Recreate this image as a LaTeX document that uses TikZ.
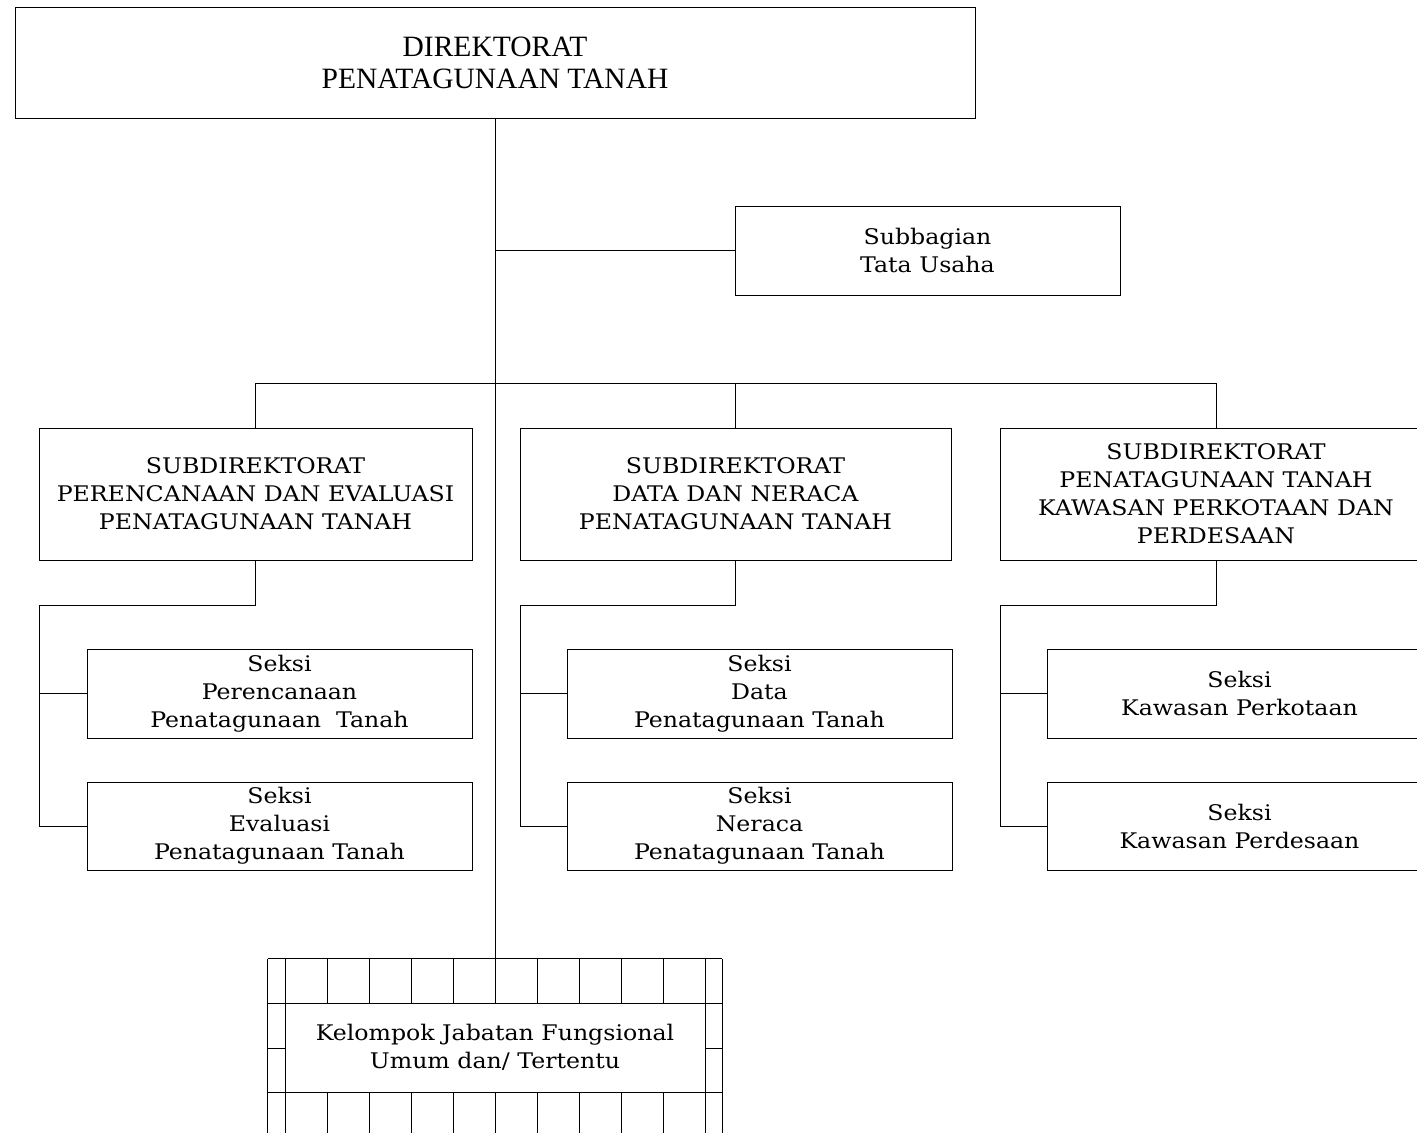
\documentclass[tikz,border=0pt]{standalone}
\usepackage{fontspec}
\setmainfont{DejaVu Serif}[FakeStretch=1.1]
\newfontfamily\headfont{Liberation Serif}
\begin{document}
\begin{tikzpicture}[x=1pt,y=-1pt,
  box/.style={draw, line width=0.8pt, inner sep=0pt, align=center,
    font=\fontsize{21.5}{28}\selectfont},
  link/.style={line width=0.8pt}]
\clip (0,0) rectangle (1417,1133);
\fill[white] (0,0) rectangle (1417,1133);

% head office
\node[box, minimum width=960pt, minimum height=111pt,
  font=\headfont\fontsize{29.5}{32}\selectfont] (dir) at (495,62.5)
  {DIREKTORAT\\PENATAGUNAAN TANAH};

% administration unit
\node[box, minimum width=385pt, minimum height=89pt] (tu) at (927.5,250.5)
  {Subbagian\\Tata Usaha};

% sub-directorates
\node[box, minimum width=433pt, minimum height=132pt] (sub1) at (255.5,494)
  {SUBDIREKTORAT\\PERENCANAAN DAN EVALUASI\\PENATAGUNAAN TANAH};
\node[box, minimum width=431pt, minimum height=132pt] (sub2) at (735.5,494)
  {SUBDIREKTORAT\\DATA DAN NERACA\\PENATAGUNAAN TANAH};
\node[box, minimum width=432pt, minimum height=132pt] (sub3) at (1216,494)
  {SUBDIREKTORAT\\PENATAGUNAAN TANAH\\KAWASAN PERKOTAAN DAN\\PERDESAAN};

% sections
\node[box, minimum width=385pt, minimum height=89pt] (s11) at (279.5,693.5)
  {Seksi\\Perencanaan\\Penatagunaan\ \ Tanah};
\node[box, minimum width=385pt, minimum height=88pt] (s12) at (279.5,826)
  {Seksi\\Evaluasi\\Penatagunaan Tanah};
\node[box, minimum width=385pt, minimum height=89pt] (s21) at (759.5,693.5)
  {Seksi\\Data\\Penatagunaan Tanah};
\node[box, minimum width=385pt, minimum height=88pt] (s22) at (759.5,826)
  {Seksi\\Neraca\\Penatagunaan Tanah};
\node[box, minimum width=385pt, minimum height=89pt] (s31) at (1239.5,693.5)
  {Seksi\\Kawasan Perkotaan};
\node[box, minimum width=385pt, minimum height=88pt] (s32) at (1239.5,826)
  {Seksi\\Kawasan Perdesaan};

% functional group with its surrounding grid
\node[minimum width=454pt, minimum height=177pt, inner sep=0pt] (grid) at (495,1047.5) {};
\node[box, minimum width=420pt, minimum height=89pt] (kel) at (495,1047.5)
  {Kelompok Jabatan Fungsional\\Umum dan/ Tertentu};
\begin{scope}[link]
  \draw (grid.north west) -- (grid.south west);
  \draw (grid.north east) -- (grid.south east);
  \draw (grid.north west) -- (grid.north east);
  \draw (268,1003) -- (722,1003);
  \draw (268,1092) -- (722,1092);
  \draw (268,1048) -- (285,1048) (705,1048) -- (722,1048);
  \draw (285,959) -- (285,1136) (705,959) -- (705,1136);
  \foreach \x in {327,369,411,453,495,537,579,621,663}{
    \draw (\x,959) -- (\x,1003) (\x,1092) -- (\x,1136);
  }
\end{scope}

% connectors
\coordinate (bus) at (496,383);
\coordinate (k1) at (39,605);
\coordinate (k2) at (520,605);
\coordinate (k3) at (1000,605);
\begin{scope}[link]
  \draw (dir.south) -- (grid.north);
  \draw (dir.south |- tu.west) -- (tu.west);
  \draw (sub1.north) -- (sub1.north |- bus) -- (sub3.north |- bus) -- (sub3.north);
  \draw (sub2.north |- bus) -- (sub2.north);
  \draw (sub1.south) |- (k1) |- (s11.west);
  \draw (k1) |- (s12.west);
  \draw (sub2.south) |- (k2) |- (s21.west);
  \draw (k2) |- (s22.west);
  \draw (sub3.south) |- (k3) |- (s31.west);
  \draw (k3) |- (s32.west);
\end{scope}
\end{tikzpicture}
\end{document}
